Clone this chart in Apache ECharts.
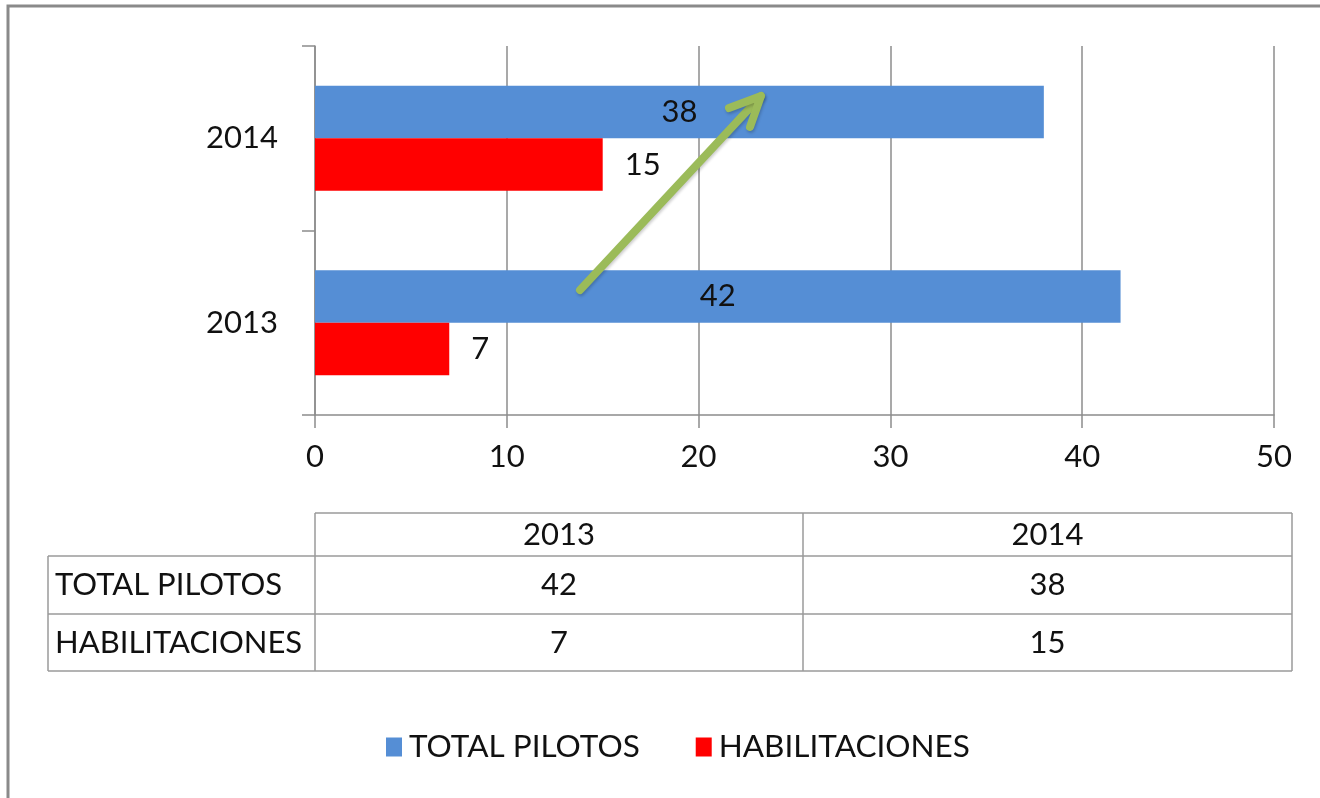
<!DOCTYPE html>
<html>
<head>
<meta charset="utf-8">
<script src="https://cdn.jsdelivr.net/npm/echarts@6/dist/echarts.min.js"></script>
<style>
html,body{margin:0;padding:0;background:#fff;}
#c{width:1320px;height:798px;}
</style>
</head>
<body>
<div id="c"></div>
<script>
const categories = ['2013', '2014'];
const seriesNames = ['TOTAL PILOTOS', 'HABILITACIONES'];
const totalPilotos = [42, 38];
const habilitaciones = [7, 15];
const xTicks = [0, 10, 20, 30, 40, 50];

const FONT = 'Lato';
const FS = 31;
const TXT = '#111';
const GRID_COLOR = '#8c8c8c';
const BLUE = '#558ED5';
const RED = '#FF0000';

const chart = echarts.init(document.getElementById('c'));

// Data table graphic
const tblLeft = 48, colA = 315, colB = 803, tblRight = 1292;
const rowY = [513, 556, 614, 671];
const tableEls = [];
const line = (x1, y1, x2, y2) => ({
  type: 'line', shape: {x1, y1, x2, y2},
  style: {stroke: '#9a9a9a', lineWidth: 1.5}, silent: true
});
tableEls.push(line(colA, rowY[0], tblRight, rowY[0]));
for (let i = 1; i < rowY.length; i++) tableEls.push(line(tblLeft, rowY[i], tblRight, rowY[i]));
tableEls.push(line(tblLeft, rowY[1], tblLeft, rowY[3]));
tableEls.push(line(colA, rowY[0], colA, rowY[3]));
tableEls.push(line(colB, rowY[0], colB, rowY[3]));
tableEls.push(line(tblRight, rowY[0], tblRight, rowY[3]));
const colCenters = [(colA + colB) / 2, (colB + tblRight) / 2];
const txt = (x, y, s, align) => ({
  type: 'text', x, y, silent: true,
  style: {text: String(s), fontFamily: FONT, fontSize: FS, fill: TXT, align: align || 'center', verticalAlign: 'middle'}
});
categories.forEach((c, i) => tableEls.push(txt(colCenters[i], (rowY[0] + rowY[1]) / 2, c)));
const rows = [totalPilotos, habilitaciones];
seriesNames.forEach((n, r) => {
  const cy = (rowY[r + 1] + rowY[r + 2]) / 2;
  tableEls.push(txt(tblLeft + 7, cy, n, 'left'));
  rows[r].forEach((v, i) => tableEls.push(txt(colCenters[i], cy, v)));
});

// Green arrow annotation
const ARROW = '#9BBB59';
const shadow = {shadowBlur: 3, shadowColor: 'rgba(0,0,0,0.2)', shadowOffsetX: 1, shadowOffsetY: 2};
const arrowShaft = {
  type: 'polyline', silent: true, z: 100, zlevel: 0,
  shape: {points: [[580, 290], [761, 96]]},
  style: Object.assign({stroke: ARROW, lineWidth: 8, lineCap: 'round', fill: null}, shadow)
};
const arrowHead = {
  type: 'polyline', silent: true, z: 100, zlevel: 0,
  shape: {points: [[729, 108], [761, 96], [750, 127]]},
  style: Object.assign({stroke: ARROW, lineWidth: 8, lineCap: 'round', lineJoin: 'round', fill: null}, shadow)
};

const option = {
  backgroundColor: '#fff',
  animation: false,
  textStyle: {fontFamily: FONT},
  grid: {left: 315, right: 46, top: 46, bottom: 383, containLabel: false},
  legend: {
    data: seriesNames,
    left: 381, top: 726,
    itemWidth: 16, itemHeight: 19, itemGap: 56,
    icon: 'rect',
    textStyle: {fontFamily: FONT, fontSize: 31.5, color: TXT, padding: [0, 0, 0, 2]}
  },
  xAxis: {
    type: 'value', min: xTicks[0], max: xTicks[xTicks.length - 1], interval: 10,
    axisLine: {show: true, lineStyle: {color: GRID_COLOR, width: 1.5}},
    axisTick: {show: true, length: 13, lineStyle: {color: GRID_COLOR, width: 1.5}},
    axisLabel: {fontFamily: FONT, fontSize: FS, color: TXT, margin: 26},
    splitLine: {show: true, lineStyle: {color: GRID_COLOR, width: 1.5}}
  },
  yAxis: {
    type: 'category', data: categories,
    axisLine: {show: true, lineStyle: {color: GRID_COLOR, width: 1.5}},
    axisTick: {show: true, length: 13, lineStyle: {color: GRID_COLOR, width: 1.5}},
    axisLabel: {fontFamily: FONT, fontSize: FS, color: TXT, margin: 37}
  },
  series: [
    {
      name: seriesNames[0], type: 'bar', data: totalPilotos,
      barGap: '0%', barCategoryGap: '43%',
      itemStyle: {color: BLUE},
      label: {show: true, position: 'inside', fontFamily: FONT, fontSize: FS, color: TXT}
    },
    {
      name: seriesNames[1], type: 'bar', data: habilitaciones,
      barGap: '0%', barCategoryGap: '43%',
      itemStyle: {color: RED},
      label: {show: true, position: 'right', distance: 22, fontFamily: FONT, fontSize: FS, color: TXT}
    }
  ],
  graphic: [
    {type: 'rect', shape: {x: 8, y: 6, width: 1400, height: 900}, style: {fill: null, stroke: '#8a8a8a', lineWidth: 3}, silent: true, z: 100},
    ...tableEls,
    arrowShaft,
    arrowHead
  ]
};
chart.setOption(option);
</script>
</body>
</html>
